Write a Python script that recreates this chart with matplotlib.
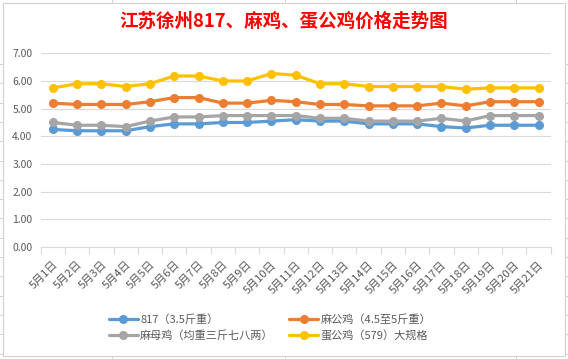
import matplotlib
matplotlib.use("Agg")
import matplotlib.pyplot as plt
from matplotlib.lines import Line2D
from matplotlib.patches import Rectangle

plt.rcParams['font.family'] = ['Noto Sans CJK SC', 'DejaVu Sans']

# data
dates = ['5月1日', '5月2日', '5月3日', '5月4日', '5月5日', '5月6日', '5月7日',
         '5月8日', '5月9日', '5月10日', '5月11日', '5月12日', '5月13日', '5月14日',
         '5月15日', '5月16日', '5月17日', '5月18日', '5月19日', '5月20日', '5月21日']
p817 = [4.25, 4.2, 4.2, 4.2, 4.35, 4.45, 4.45, 4.5, 4.5, 4.55, 4.6,
        4.55, 4.55, 4.45, 4.45, 4.45, 4.35, 4.3, 4.4, 4.4, 4.4]
ma_gong = [5.2, 5.15, 5.15, 5.15, 5.25, 5.4, 5.4, 5.2, 5.2, 5.3, 5.25,
           5.15, 5.15, 5.1, 5.1, 5.1, 5.2, 5.1, 5.25, 5.25, 5.25]
ma_mu = [4.5, 4.4, 4.4, 4.35, 4.55, 4.7, 4.7, 4.75, 4.75, 4.75, 4.75,
         4.65, 4.65, 4.55, 4.55, 4.55, 4.65, 4.55, 4.75, 4.75, 4.75]
dan_gong = [5.75, 5.9, 5.9, 5.8, 5.9, 6.18, 6.18, 6.0, 6.0, 6.27, 6.21,
            5.9, 5.9, 5.8, 5.8, 5.8, 5.8, 5.7, 5.75, 5.75, 5.75]

names = ['817（3.5斤重）', '麻公鸡（4.5至5斤重）', '麻母鸡（均重三斤七八两）', '蛋公鸡（579）大规格']
colors = ['#5B9BD5', '#ED7D31', '#A5A5A5', '#FFC000']
series = [p817, ma_gong, ma_mu, dan_gong]

W, H = 568, 359
fig = plt.figure(figsize=(W / 100, H / 100), dpi=100)
fig.patch.set_facecolor('white')

def px(x, y):
    return x / W, 1 - y / H

# spreadsheet grid around the chart
grid_c = '#D4D4D4'
for gx in [112, 285, 516]:
    fig.add_artist(Line2D([gx / W] * 2, [1, px(0, 3)[1]], color=grid_c, lw=0.8))
    fig.add_artist(Line2D([gx / W] * 2, [0, px(0, 356)[1]], color=grid_c, lw=0.8))
gy = 64
while gy < 356:
    fig.add_artist(Line2D([0, 3 / W], [1 - gy / H] * 2, color=grid_c, lw=0.8))
    fig.add_artist(Line2D([565 / W, 1], [1 - gy / H] * 2, color=grid_c, lw=0.8))
    gy += 19.3

# chart border
x0, y0 = px(3, 356)
x1, y1 = px(565, 3)
fig.add_artist(Rectangle((x0, y0), x1 - x0, y1 - y0, transform=fig.transFigure,
                         fill=False, edgecolor='#D0D0D0', lw=0.8))

ax = fig.add_axes([40.7 / W, 1 - 247 / H, 510 / W, (247 - 53.3) / H])
xs = range(len(dates))
handles = []
for vals, name, c in zip(series, names, colors):
    h, = ax.plot(xs, vals, color=c, lw=2.3, marker='o', markersize=5.5,
                 label=name, solid_capstyle='round')
    handles.append(h)

ax.set_xlim(-0.5, len(dates) - 0.5)
ax.set_ylim(0, 7)
ax.set_yticks([0, 1, 2, 3, 4, 5, 6, 7])
ax.set_yticklabels(['%.2f' % v for v in range(8)])
ax.grid(axis='y', color='#D9D9D9', lw=0.8)
ax.set_axisbelow(True)
for s in ['top', 'right', 'left']:
    ax.spines[s].set_visible(False)
ax.spines['bottom'].set_color('#D9D9D9')
ax.spines['bottom'].set_linewidth(0.8)

ax.set_xticks([i - 0.5 for i in range(len(dates) + 1)], minor=False)
ax.set_xticklabels([])
ax.set_xticks(list(xs), minor=True)
ax.set_xticklabels(dates, minor=True, rotation=45, ha='right', va='top',
                   rotation_mode='anchor')
ax.tick_params(axis='x', which='major', length=5, color='#D9D9D9', width=0.8)
ax.tick_params(axis='x', which='minor', length=0, pad=9, labelsize=8,
               labelcolor='#595959')
ax.tick_params(axis='y', length=0, pad=6, labelsize=7.5, labelcolor='#595959')

fig.text(283.5 / W, 1 - 21 / H, '江苏徐州817、麻鸡、蛋公鸡价格走势图',
         color='red', fontsize=13.3, fontweight='bold', ha='center', va='center')

order = [handles[0], handles[2], handles[1], handles[3]]
leg = fig.legend(order, [h.get_label() for h in order], ncol=2,
                 loc='center', bbox_to_anchor=px(270, 327.5),
                 frameon=False, fontsize=8, handlelength=2.6,
                 handletextpad=0.2, columnspacing=1.4, labelspacing=0.45,
                 borderpad=0)
for t in leg.get_texts():
    t.set_color('#595959')

fig.savefig('out.png', dpi=100, facecolor='white')
